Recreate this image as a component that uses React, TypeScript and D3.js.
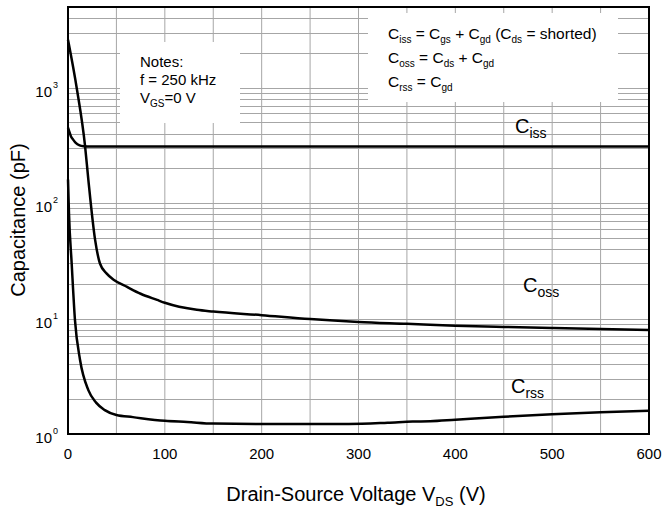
import React from 'react';
import * as d3 from 'd3';

// values
const cissV = [0, 1, 3, 5.5, 8, 12, 16, 20, 100, 300, 600];
const cissC = [450, 425, 380, 353, 332, 316, 311, 310, 310, 310, 310];

const cossV = [0, 9.3, 17.6, 21, 28, 33, 40, 47.5, 61, 75, 92, 100, 133, 150, 200, 250, 300, 350, 400, 450, 500, 550, 600];
const cossC = [2600, 960, 313, 160, 48, 30, 24.5, 21.6, 18.8, 16.4, 14.5, 13.7, 11.9, 11.5, 10.7, 9.9, 9.35, 9.0, 8.65, 8.45, 8.3, 8.13, 7.97];

const crssV = [0, 1, 3.8, 7.2, 12.4, 21, 29, 38, 50, 67, 100, 123, 150, 200, 250, 290, 330, 356, 374, 400, 450, 500, 550, 600];
const crssC = [160, 82, 30, 9.7, 4.4, 2.4, 1.87, 1.61, 1.46, 1.4, 1.3, 1.27, 1.23, 1.22, 1.22, 1.22, 1.25, 1.28, 1.29, 1.33, 1.41, 1.48, 1.54, 1.59];

const xTicks = [0, 100, 200, 300, 400, 500, 600];
const yDecades = [0, 1, 2, 3];

const font = 'Arial, "Liberation Sans", sans-serif';

type Part = [string, boolean];

function Rich({ x, y, parts, size, sub, anchor = 'start', shift = 4 }: { x: number; y: number; parts: Part[]; size: number; sub: number; anchor?: string; shift?: number }) {
  let down = false;
  return (
    <text x={x} y={y} fontSize={size} fontFamily={font} textAnchor={anchor} fill="#000">
      {parts.map(([t, isSub], i) => {
        let dy = 0;
        if (isSub && !down) { dy = shift; down = true; }
        else if (!isSub && down) { dy = -shift; down = false; }
        return (
          <tspan key={i} dy={dy} fontSize={isSub ? sub : size} xmlSpace="preserve">{t}</tspan>
        );
      })}
    </text>
  );
}

export default function App() {
  const left = 68, right = 649, top = 7, bottom = 434;
  const x = d3.scaleLinear().domain([0, 600]).range([left, right]);
  const y = d3.scaleLog().domain([1, 5000]).range([bottom, top]);

  const line = d3.line<[number, number]>()
    .x(d => x(d[0]))
    .y(d => y(d[1]))
    .curve(d3.curveMonotoneX);

  const series = [
    cissV.map((v, i) => [v, cissC[i]] as [number, number]),
    cossV.map((v, i) => [v, cossC[i]] as [number, number]),
    crssV.map((v, i) => [v, crssC[i]] as [number, number]),
  ];

  const vGrid = d3.range(50, 600, 50);
  const hGrid: number[] = [];
  for (let e = 0; e < 4; e++) {
    for (let m = 1; m < 10; m++) {
      const v = m * Math.pow(10, e);
      if (v > 1 && v < 5000) hGrid.push(v);
    }
  }

  return (
    <svg width={664} height={511} style={{ position: 'absolute', left: 0, top: 0, background: '#fff' }}>
      <rect x={0} y={0} width={664} height={511} fill="#fff" />
      <g stroke="#a6a6a6" strokeWidth={1}>
        {vGrid.map(v => (
          <line key={'v' + v} x1={x(v)} x2={x(v)} y1={top} y2={bottom} />
        ))}
        {hGrid.map(v => (
          <line key={'h' + v} x1={left} x2={right} y1={Math.round(y(v)) + 0.5} y2={Math.round(y(v)) + 0.5} />
        ))}
      </g>
      {/* boxes for the notes, they hide the grid */}
      <rect x={120} y={42} width={120} height={81} fill="#fff" />
      <rect x={368} y={13} width={250} height={89} fill="#fff" />

      <g fill="none" stroke="#000" strokeWidth={2.5} strokeLinejoin="round">
        {series.map((s, i) => (
          <path key={i} d={line(s) || ''} />
        ))}
      </g>
      <rect x={left} y={top} width={right - left} height={bottom - top} fill="none" stroke="#000" strokeWidth={2} />

      {xTicks.map(t => (
        <text key={t} x={x(t)} y={459} fontSize={15} fontFamily={font} textAnchor="middle">{t}</text>
      ))}
      {yDecades.map(e => (
        <g key={e}>
          <text x={52} y={y(Math.pow(10, e)) + 9} fontSize={15} fontFamily={font} textAnchor="end">10</text>
          <text x={53} y={y(Math.pow(10, e)) + 0} fontSize={9} fontFamily={font}>{e}</text>
        </g>
      ))}

      <text transform="translate(25,220) rotate(-90)" fontSize={20} fontFamily={font} textAnchor="middle">Capacitance (pF)</text>
      <Rich x={356} y={501} size={20} sub={13} anchor="middle" shift={5}
        parts={[['Drain-Source Voltage V', false], ['DS', true], [' (V)', false]]} />

      <text x={140} y={67} fontSize={15} fontFamily={font}>Notes:</text>
      <text x={140} y={85} fontSize={15} fontFamily={font}>f = 250 kHz</text>
      <Rich x={140} y={103} size={15} sub={10} parts={[['V', false], ['GS', true], ['=0 V', false]]} />

      <Rich x={388} y={39} size={15.5} sub={10}
        parts={[['C', false], ['iss', true], [' = C', false], ['gs', true], [' + C', false], ['gd', true], [' (C', false], ['ds', true], [' = shorted)', false]]} />
      <Rich x={388} y={63} size={15.5} sub={10}
        parts={[['C', false], ['oss', true], [' = C', false], ['ds', true], [' + C', false], ['gd', true]]} />
      <Rich x={388} y={87} size={15.5} sub={10}
        parts={[['C', false], ['rss', true], [' = C', false], ['gd', true]]} />

      <Rich x={515} y={133} size={20} sub={14} shift={5} parts={[['C', false], ['iss', true]]} />
      <Rich x={523} y={292} size={20} sub={14} shift={5} parts={[['C', false], ['oss', true]]} />
      <Rich x={511} y={393} size={20} sub={14} shift={5} parts={[['C', false], ['rss', true]]} />
    </svg>
  );
}
